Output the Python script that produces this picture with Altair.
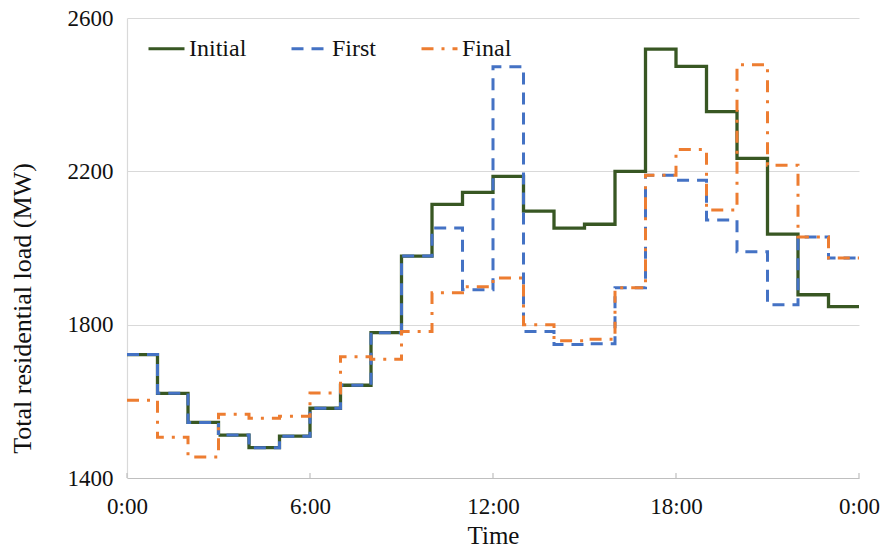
import altair as alt
import pandas as pd

hours = list(range(25))
initial = [1722, 1621, 1545, 1512, 1479, 1509, 1582, 1642, 1779, 1979, 2114, 2145,
           2187, 2096, 2052, 2062, 2200, 2519, 2474, 2356, 2234, 2036, 1878, 1847]
first = [1722, 1621, 1545, 1512, 1479, 1509, 1582, 1642, 1779, 1979, 2052, 1891,
         2473, 1782, 1748, 1750, 1896, 2190, 2177, 2073, 1990, 1852, 2029, 1974]
final = [1603, 1506, 1455, 1566, 1556, 1561, 1622, 1716, 1710, 1782, 1883, 1899,
         1922, 1800, 1758, 1762, 1896, 2190, 2257, 2099, 2478, 2216, 2029, 1974]
series_names = ["Initial", "First", "Final"]
colors = ["#385723", "#4472C4", "#ED7D31"]
dashes = [[1, 0], [12, 8], [12, 8, 3, 8]]
widths = [3.3, 3.0, 3.0]
tick_hours = [0, 6, 12, 18, 24]
tick_labels = ["0:00", "6:00", "12:00", "18:00", "0:00"]

rows = []
for name, vals in zip(series_names, [initial, first, final]):
    ext = vals + [vals[-1]]
    for h, v in zip(hours, ext):
        rows.append({"hour": h, "load": v, "series": name})
df = pd.DataFrame(rows)

ticks_df = pd.DataFrame({"hour": tick_hours, "y0": [1400] * 5, "y1": [1413] * 5})

FONT = "Liberation Serif"
TXT = "#111111"
label_expr = "{" + ",".join(f"'{h}':'{l}'" for h, l in zip(tick_hours, tick_labels)) + "}[datum.value]"

x_enc = alt.X("hour:Q",
              scale=alt.Scale(domain=[0, 24], nice=False),
              axis=alt.Axis(values=tick_hours, labelExpr=label_expr, title="Time",
                            grid=False, ticks=False, domainColor="#bfbfbf", domainWidth=1.2,
                            labelPadding=17, titlePadding=5, labelFlush=False,
                            titleFontSize=25))
y_enc = alt.Y("load:Q",
              scale=alt.Scale(domain=[1400, 2600], nice=False, zero=False),
              axis=alt.Axis(values=[1400, 1800, 2200, 2600], format="d",
                            title="Total residential load (MW)",
                            grid=True, gridColor="#d9d9d9", gridWidth=1.2, ticks=False,
                            domainColor="#d9d9d9", domainWidth=1.2, labelPadding=14,
                            titlePadding=32, titleFontSize=26, titleY=290))

leg = dict(title=None, orient="none", legendX=20, legendY=11,
           direction="horizontal", symbolType="stroke",
           symbolSize=1296, symbolStrokeWidth=3,
           columnPadding=38, labelOffset=3, padding=0,
           labelFont=FONT, labelFontSize=24, labelColor=TXT)
color_enc = alt.Color("series:N", scale=alt.Scale(domain=series_names, range=colors),
                      legend=alt.Legend(**leg))
dash_enc = alt.StrokeDash("series:N", scale=alt.Scale(domain=series_names, range=dashes),
                          legend=alt.Legend(**leg))

layers = []
for name, w in zip(series_names, widths):
    layers.append(
        alt.Chart(df).transform_filter(alt.datum.series == name)
        .mark_line(interpolate="step-after", strokeWidth=w, strokeJoin="miter")
        .encode(x=x_enc, y=y_enc, color=color_enc, strokeDash=dash_enc)
    )

tick_layer = alt.Chart(ticks_df).mark_rule(color="#bfbfbf", strokeWidth=1.2).encode(
    x="hour:Q", y="y0:Q", y2="y1:Q")

chart = alt.layer(tick_layer, *layers).properties(
    width=732, height=460,
    autosize=alt.AutoSizeParams(type="none"),
    padding={"left": 127, "top": 18, "right": 25, "bottom": 70},
).configure_view(stroke=None).configure_axis(
    labelFont=FONT, titleFont=FONT, labelFontSize=23,
    labelColor=TXT, titleColor=TXT, titleFontWeight="normal"
)

chart.save("out.html", embed_options={"renderer": "svg", "actions": False})
